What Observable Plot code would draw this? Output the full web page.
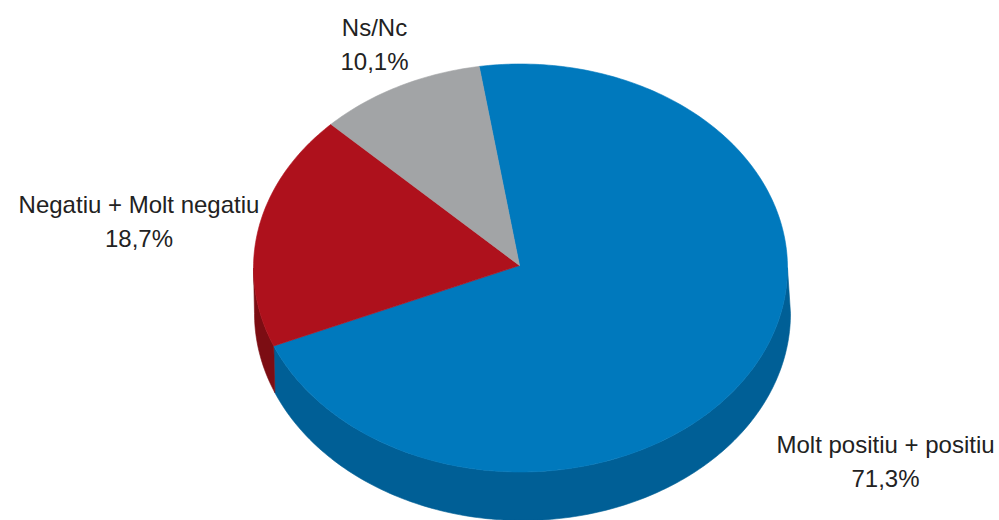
<!DOCTYPE html>
<html>
<head>
<meta charset="utf-8">
<script src="https://cdn.jsdelivr.net/npm/d3@7"></script>
<script src="https://cdn.jsdelivr.net/npm/@observablehq/plot@0.6"></script>
<style>html,body{margin:0;padding:0;background:#fff}svg{display:block}</style>
</head>
<body>
<div id="chart"></div>
<script>
// Data
const categories = ["Molt positiu + positiu", "Negatiu + Molt negatiu", "Ns/Nc"];
const shares = [71.3, 18.7, 10.1];
const shareLabels = ["71,3%", "18,7%", "10,1%"];

// Styles
const topColors = ["#0079bd", "#ae111c", "#a2a4a6"];
const wallColors = ["#005f96", "#7c0d13", "#77787a"];

// Layout (the pie's projected geometry and the label anchors)
const startDeg = -8.9;
const topDisc = {cx: 520, cy: 267.5, rx: 267, ry: 204};
const baseDisc = {cx: 522, cy: 313, rx: 268, ry: 207};
const apex = {x: 519, y: 265};
const labelX = [885, 138.5, 374];
const labelY = [460, 220, 43];

const total = d3.sum(shares);
const onDisc = (disc, deg) => {
  const a = deg * Math.PI / 180;
  return {x: disc.cx + disc.rx * Math.sin(a), y: disc.cy - disc.ry * Math.cos(a)};
};
const arc = (disc, from, to) => {
  const n = Math.max(2, Math.ceil(Math.abs(to - from)));
  return d3.range(n + 1).map(i => onDisc(disc, from + (to - from) * i / n));
};

let cursor = startDeg;
const slices = categories.map((name, i) => {
  const from = cursor;
  const to = from + shares[i] / total * 360;
  cursor = to;
  return {name, i, from, to};
});

const topPolys = slices.map(s => [apex, ...arc(topDisc, s.from, s.to)]);
const wallPolys = slices
  .map(s => ({s, from: Math.max(s.from, 90), to: Math.min(s.to, 270)}))
  .filter(w => w.to > w.from)
  .map(w => ({
    i: w.s.i,
    points: [...arc(topDisc, w.from, w.to), ...arc(baseDisc, w.from, w.to).reverse()]
  }));

const polyMark = (points, color) =>
  Plot.line([...points, points[0]], {x: "x", y: "y", fill: color, stroke: color, strokeWidth: 0.6, curve: "linear"});

const labels = categories.map((name, i) => ({
  text: name + "\n" + shareLabels[i], x: labelX[i], y: labelY[i]
}));

const chart = Plot.plot({
  width: 999,
  height: 520,
  margin: 0,
  style: {background: "#fff"},
  x: {domain: [0, 999], range: [0, 999], axis: null},
  y: {domain: [0, 520], range: [0, 520], axis: null},
  marks: [
    ...wallPolys.map(w => polyMark(w.points, wallColors[w.i])),
    ...topPolys.map((p, i) => polyMark(p, topColors[i])),
    Plot.text(labels, {
      x: "x", y: "y", text: "text",
      fontFamily: "Liberation Sans, Arial, sans-serif",
      fontSize: 24,
      lineHeight: 1.42,
      fill: "#222",
      textAnchor: "middle",
      dy: -1.5
    })
  ]
});
document.getElementById("chart").append(chart);
</script>
</body>
</html>
